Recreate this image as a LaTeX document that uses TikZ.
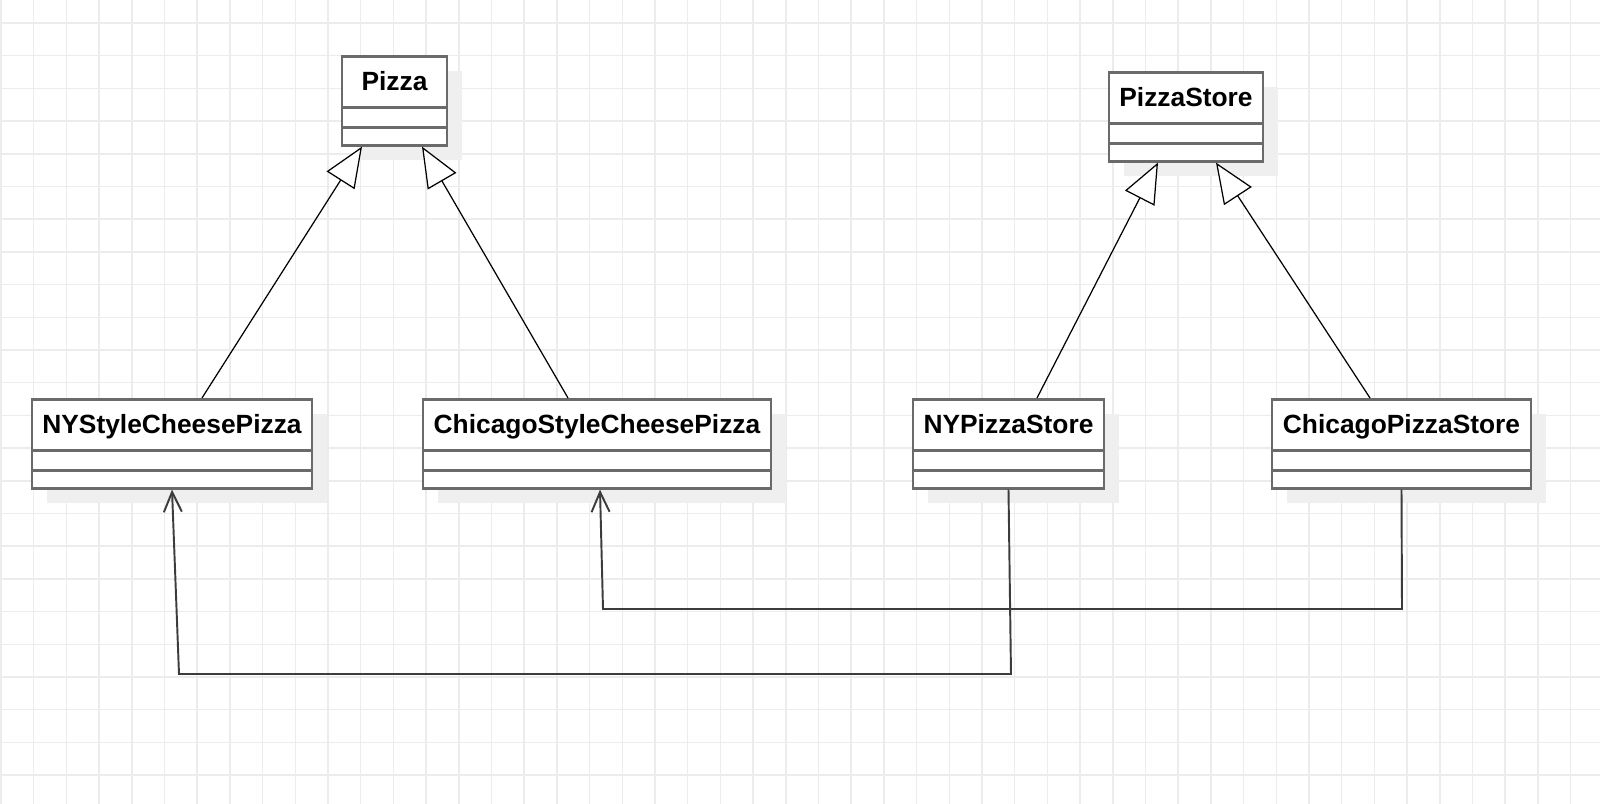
\documentclass[tikz,border=0pt]{standalone}
\usepackage{fontspec}
\setmainfont{Liberation Sans}
\usepackage{tikz}
\usetikzlibrary{arrows.meta}
\usetikzlibrary{shadows}

\definecolor{gridgray}{HTML}{ECECEC}
\definecolor{boxgray}{HTML}{6A6A6A}
\definecolor{shadegray}{HTML}{EFEFEF}
\definecolor{depgray}{HTML}{3C3C3C}

\begin{document}
\begin{tikzpicture}[x=0.02cm, y=-0.02cm,
    cls/.style={draw=boxgray, line width=1.5pt, fill=white, anchor=north,
        minimum height=17.8mm, inner ysep=0pt, text height=6.9mm, text depth=10.9mm,
        font=\fontsize{15}{18}\selectfont\bfseries,
        drop shadow={shadow xshift=3mm, shadow yshift=-3mm, fill=shadegray, opacity=1},
        path picture={
            \draw[boxgray, line width=1.5pt] ([yshift=-10.2mm]path picture bounding box.north west) -- ([yshift=-10.2mm]path picture bounding box.north east);
            \draw[boxgray, line width=1.5pt] ([yshift=-14.2mm]path picture bounding box.north west) -- ([yshift=-14.2mm]path picture bounding box.north east);
        }},
    inherit/.style={-{Triangle[fill=white, length=8mm, width=6.6mm]}, line width=0.7pt},
    uses/.style={-{Straight Barb[length=4mm, width=3.6mm]}, depgray, line width=1.1pt}]
        \useasboundingbox (0, 0) rectangle (1600, 804);
        \fill [white] (0, 0) rectangle (1600, 804);
        \foreach \gx in {0,...,48}
            \draw [gridgray, line width=0.85pt] (1+32.7*\gx, 0) -- (1+32.7*\gx, 804);
        \foreach \gy in {0,...,23}
            \draw [gridgray, line width=0.85pt] (0, 23+32.7*\gy) -- (1600, 23+32.7*\gy);
        \node [cls, minimum width=2.1cm] (pizza) at (394.5, 55) {Pizza};
        \node [cls, minimum width=3.08cm] (store) at (1186, 71) {PizzaStore};
        \node [cls, minimum width=5.6cm] (nyCheese) at (172, 398) {NYStyleCheesePizza};
        \node [cls, minimum width=6.96cm] (chiCheese) at (597, 398) {ChicagoStyleCheesePizza};
        \node [cls, minimum width=3.82cm] (nyStore) at (1008.5, 398) {NYPizzaStore};
        \node [cls, minimum width=5.18cm] (chiStore) at (1401.5, 398) {ChicagoPizzaStore};
        \draw [inherit] ([xshift=6mm]nyCheese.north) -- ([xshift=-6.5mm]pizza.south);
        \draw [inherit] ([xshift=-5.8mm]chiCheese.north) -- ([xshift=5.5mm]pizza.south);
        \draw [inherit] ([xshift=5.7mm]nyStore.north) -- ([xshift=-5.6mm]store.south);
        \draw [inherit] ([xshift=-6.3mm]chiStore.north) -- ([xshift=6mm]store.south);
        \coordinate (nyLow) at (1011, 674);
        \coordinate (nyBack) at (179, 674);
        \draw [uses] (nyStore.south) -- (nyLow) -- (nyBack) -- (nyCheese.south);
        \coordinate (chiLow) at (1402, 609);
        \coordinate (chiBack) at (603, 609);
        \draw [uses] (chiStore.south) -- (chiLow) -- (chiBack) -- ([xshift=0.6mm]chiCheese.south);
    \end{tikzpicture}
\end{document}
